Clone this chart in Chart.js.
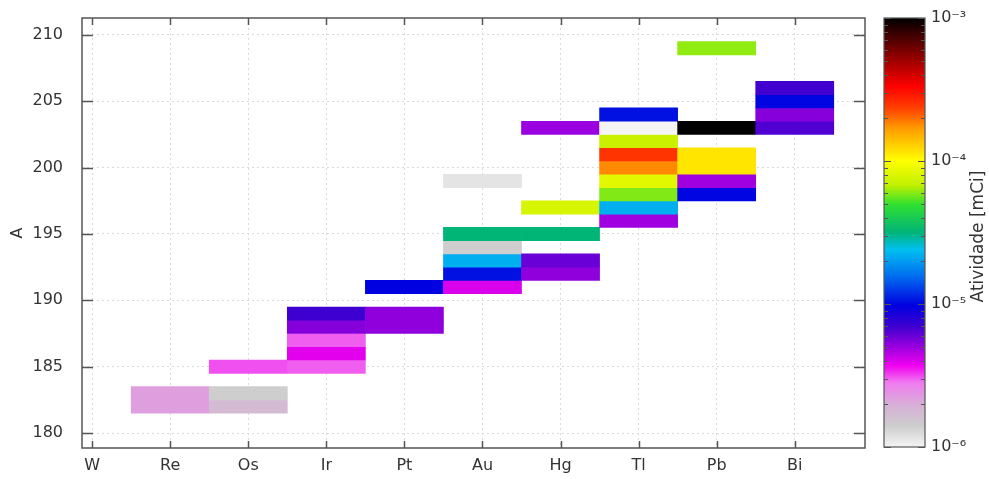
<!DOCTYPE html>
<html>
<head>
<meta charset="utf-8">
<script src="https://cdn.jsdelivr.net/npm/chart.js@4/dist/chart.umd.min.js"></script>
<style>
  html, body { margin: 0; padding: 0; background: #ffffff; }
  #wrap { position: relative; width: 989px; height: 479px; overflow: hidden; }
  #main { position: absolute; left: 0; top: 0; }
  #bar  { position: absolute; left: 860px; top: 0; }
</style>
</head>
<body>
<div id="wrap">
  <canvas id="main" width="989" height="479"></canvas>
  <canvas id="bar" width="129" height="479"></canvas>
</div>
<script>
// Elements along the x axis (tick labels, in order)
const elements = ['W', 'Re', 'Os', 'Ir', 'Pt', 'Au', 'Hg', 'Tl', 'Pb', 'Bi'];

// Mass-number ticks on the y axis
const massTicks = [180, 185, 190, 195, 200, 205, 210];

// One entry per isotope cell: element, mass number A, activity in mCi
const cellElement = [
  'Re', 'Re',
  'Os', 'Os', 'Os',
  'Ir', 'Ir', 'Ir', 'Ir', 'Ir',
  'Pt', 'Pt', 'Pt',
  'Au', 'Au', 'Au', 'Au', 'Au', 'Au',
  'Hg', 'Hg', 'Hg', 'Hg', 'Hg',
  'Tl', 'Tl', 'Tl', 'Tl', 'Tl', 'Tl', 'Tl', 'Tl', 'Tl',
  'Pb', 'Pb', 'Pb', 'Pb', 'Pb', 'Pb',
  'Bi', 'Bi', 'Bi', 'Bi'
];
const cellMass = [
  182, 183,
  182, 183, 185,
  185, 186, 187, 188, 189,
  188, 189, 191,
  191, 192, 193, 194, 195, 199,
  192, 193, 195, 197, 203,
  196, 197, 198, 199, 200, 201, 202, 203, 204,
  198, 199, 200, 201, 203, 209,
  203, 204, 205, 206
];
const cellActivity = [
  2.2e-6, 2.2e-6,
  1.7e-6, 1.4e-6, 3.1e-6,
  3.0e-6, 3.9e-6, 3.0e-6, 5.4e-6, 7.0e-6,
  5.2e-6, 5.2e-6, 9.8e-6,
  4.0e-6, 1.05e-5, 2.2e-5, 1.4e-6, 3.2e-5, 1.15e-6,
  5.2e-6, 6.0e-6, 3.2e-5, 7.7e-5, 5.0e-6,
  4.9e-6, 2.2e-5, 5.9e-5, 8.3e-5, 1.8e-4, 2.5e-4, 7.2e-5, 1.0e-6, 1.05e-5,
  1.0e-5, 4.9e-6, 1.15e-4, 1.15e-4, 1.0e-3, 6.1e-5,
  6.5e-6, 5.4e-6, 1.0e-5, 6.9e-6
];

// Colour scale range (log) and its decade ticks
const activityRange = [1e-6, 1e-3];
const colorbarDecades = [1e-6, 1e-5, 1e-4, 1e-3];
const colorbarTitle = 'Atividade [mCi]';

// Palette: position along the log range (0..1) -> colour
const paletteStops = [
  [0.000, '#f4f4f4'],
  [0.050, '#cdcdcd'],
  [0.100, '#d8aed8'],
  [0.150, '#f07af0'],
  [0.190, '#f000f0'],
  [0.230, '#a000e0'],
  [0.280, '#4000d0'],
  [0.330, '#0000e0'],
  [0.400, '#0070f0'],
  [0.460, '#00c0f0'],
  [0.500, '#00b478'],
  [0.565, '#30e030'],
  [0.610, '#c0f000'],
  [0.667, '#ffff00'],
  [0.740, '#ffa000'],
  [0.790, '#ff4000'],
  [0.840, '#ff0000'],
  [0.920, '#800000'],
  [1.000, '#000000']
];

const FONT = "'DejaVu Sans', sans-serif";
const TEXT = '#333333';
const FRAME = '#555555';
const GRID = '#dadada';

function hexToRgb(h) {
  return [parseInt(h.slice(1, 3), 16), parseInt(h.slice(3, 5), 16), parseInt(h.slice(5, 7), 16)];
}
function paletteAt(t) {
  t = Math.min(1, Math.max(0, t));
  for (let i = 1; i < paletteStops.length; i++) {
    const [t1, c1] = paletteStops[i];
    if (t <= t1) {
      const [t0, c0] = paletteStops[i - 1];
      const f = (t - t0) / (t1 - t0);
      const a = hexToRgb(c0), b = hexToRgb(c1);
      const rgb = a.map((v, k) => Math.round(v + (b[k] - v) * f));
      return `rgb(${rgb[0]},${rgb[1]},${rgb[2]})`;
    }
  }
  return paletteStops[paletteStops.length - 1][1];
}
function colorFor(v) {
  const lo = Math.log10(activityRange[0]), hi = Math.log10(activityRange[1]);
  return paletteAt((Math.log10(v) - lo) / (hi - lo));
}

Chart.defaults.font.family = FONT;
Chart.defaults.font.size = 16;
Chart.defaults.color = TEXT;

const cellIndex = cellElement.map(s => elements.indexOf(s));

// Frame around the plot with inward tick marks on all four sides
const framePlugin = {
  id: 'frame',
  afterDraw(chart) {
    const { ctx, chartArea: a, scales: { x, y } } = chart;
    ctx.save();
    ctx.strokeStyle = FRAME;
    ctx.lineWidth = 1.5;
    ctx.beginPath();
    x.ticks.forEach(t => {
      const px = Math.round(x.getPixelForValue(t.value)) + 0.5;
      ctx.moveTo(px, a.bottom); ctx.lineTo(px, a.bottom - 7);
      ctx.moveTo(px, a.top); ctx.lineTo(px, a.top + 7);
    });
    y.ticks.forEach(t => {
      const py = Math.round(y.getPixelForValue(t.value)) + 0.5;
      ctx.moveTo(a.left, py); ctx.lineTo(a.left + 11, py);
      ctx.moveTo(a.right, py); ctx.lineTo(a.right - 11, py);
    });
    ctx.stroke();
    ctx.strokeRect(a.left, a.top, a.right - a.left, a.bottom - a.top);
    ctx.restore();
  }
};

// keep the axes from reserving extra room for their end labels
function noEdgePadding(s) {
  s.paddingTop = 0; s.paddingBottom = 0; s.paddingLeft = 0; s.paddingRight = 0;
}

new Chart(document.getElementById('main'), {
  type: 'bar',
  data: {
    datasets: [{
      data: cellMass.map((m, i) => ({ x: [cellIndex[i] - 0.5, cellIndex[i] + 0.5], y: m })),
      backgroundColor: cellActivity.map(colorFor),
      borderWidth: 0,
      borderSkipped: false,
      barPercentage: 1,
      categoryPercentage: 1
    }]
  },
  options: {
    responsive: false,
    animation: false,
    indexAxis: 'y',
    layout: { padding: { left: 0, right: 124, top: 18, bottom: 0 } },
    plugins: { legend: { display: false }, tooltip: { enabled: false } },
    scales: {
      x: {
        type: 'linear',
        position: 'bottom',
        min: -0.13,
        max: 9.9,
        afterBuildTicks: s => { s.ticks = elements.map((_, i) => ({ value: i })); },
        afterFit: s => { s.height = 31; noEdgePadding(s); },
        ticks: {
          callback: v => elements[v] ?? '',
          padding: 8,
          maxRotation: 0,
          autoSkip: false,
          color: TEXT,
          font: { size: 16 }
        },
        grid: { color: GRID, lineWidth: 1, drawTicks: false, offset: false },
        border: { display: false, dash: [2, 3] }
      },
      y: {
        type: 'linear',
        position: 'left',
        min: 178.87,
        max: 211.28,
        offset: false,
        afterBuildTicks: s => { s.ticks = massTicks.map(v => ({ value: v })); },
        afterFit: s => { s.width = 82; noEdgePadding(s); },
        ticks: { padding: 19, color: TEXT, font: { size: 16 } },
        grid: { color: GRID, lineWidth: 1, drawTicks: false, offset: false },
        border: { display: false, dash: [2, 3] },
        title: { display: true, text: 'A', color: TEXT, font: { size: 16 }, padding: { top: 8, bottom: 0 } }
      }
    }
  },
  plugins: [framePlugin]
});

// Colour bar: one floating bar spanning the activity range, filled with the palette
const SUP = { '-': '\u207B', '0': '\u2070', '1': '\u00B9', '2': '\u00B2', '3': '\u00B3', '4': '\u2074',
              '5': '\u2075', '6': '\u2076', '7': '\u2077', '8': '\u2078', '9': '\u2079' };
function decadeLabel(v) {
  const e = Math.round(Math.log10(v));
  return '10' + String(e).split('').map(c => SUP[c]).join('');
}

const colorbarPlugin = {
  id: 'colorbarFrame',
  afterDraw(chart) {
    const { ctx, chartArea: a, scales: { y } } = chart;
    ctx.save();
    ctx.strokeStyle = FRAME;
    ctx.lineWidth = 1.2;
    ctx.beginPath();
    const lo = Math.round(Math.log10(activityRange[0])), hi = Math.round(Math.log10(activityRange[1]));
    for (let e = lo; e <= hi; e++) {
      for (let m = 1; m <= 9; m++) {
        const v = m * Math.pow(10, e);
        if (v > activityRange[1] * 1.0001) break;
        const len = m === 1 ? 7 : 4;
        const py = Math.round(y.getPixelForValue(v)) + 0.5;
        ctx.moveTo(a.left, py); ctx.lineTo(a.left + len, py);
        ctx.moveTo(a.right, py); ctx.lineTo(a.right - len, py);
      }
    }
    ctx.stroke();
    ctx.strokeRect(a.left, a.top, a.right - a.left, a.bottom - a.top);
    // vertical title reading upward
    ctx.fillStyle = TEXT;
    ctx.font = '17px ' + FONT;
    ctx.textAlign = 'center';
    ctx.textBaseline = 'middle';
    ctx.translate(a.right + 54, (a.top + a.bottom) / 2 + 4);
    ctx.rotate(-Math.PI / 2);
    ctx.fillText(colorbarTitle, 0, 0);
    ctx.restore();
  }
};

new Chart(document.getElementById('bar'), {
  type: 'bar',
  data: {
    labels: [''],
    datasets: [{
      data: [[activityRange[0], activityRange[1]]],
      backgroundColor: (ctx) => {
        const chart = ctx.chart;
        const y = chart.scales.y;
        if (!chart.chartArea || !y) return '#ffffff';
        const y0 = y.getPixelForValue(activityRange[0]);
        const y1 = y.getPixelForValue(activityRange[1]);
        const g = chart.ctx.createLinearGradient(0, y0, 0, y1);
        paletteStops.forEach(([t, c]) => g.addColorStop(t, c));
        return g;
      },
      borderWidth: 0,
      barPercentage: 1,
      categoryPercentage: 1
    }]
  },
  options: {
    responsive: false,
    animation: false,
    layout: { padding: { left: 24, right: 0, top: 18, bottom: 32 } },
    plugins: { legend: { display: false }, tooltip: { enabled: false } },
    scales: {
      x: { display: false },
      y: {
        type: 'logarithmic',
        position: 'right',
        min: activityRange[0],
        max: activityRange[1],
        afterBuildTicks: s => { s.ticks = colorbarDecades.map(v => ({ value: v })); },
        afterFit: s => { s.width = 64; noEdgePadding(s); },
        ticks: { callback: v => decadeLabel(v), padding: 6, color: TEXT, font: { size: 16 } },
        grid: { display: false, drawTicks: false },
        border: { display: false }
      }
    }
  },
  plugins: [colorbarPlugin]
});
</script>
</body>
</html>
